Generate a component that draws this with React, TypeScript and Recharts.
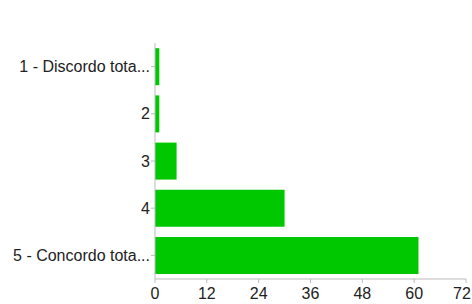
import { BarChart, Bar, XAxis, YAxis } from "recharts";

const categories = ["1 - Discordo tota...", "2", "3", "4", "5 - Concordo tota..."];
const counts = [1, 1, 5, 30, 61];
const xTicks = [0, 12, 24, 36, 48, 60, 72];

const data = categories.map((name, i) => ({ name, count: counts[i] }));

const axisColor = "#bbbbbb";
const font = "'Liberation Sans', Arial, sans-serif";
const labelStyle = { fontSize: 16, fill: "#222222", fontFamily: font };

// keeps the last label ("72") inside the 472px frame
function XTick(props: any) {
  const { x, y, payload } = props;
  const half = String(payload.value).length * 4.5;
  const cx = Math.min(x, 471 - half);
  return (
    <text x={cx} y={y} dy="0.71em" textAnchor="middle" fontSize={16} fill="#222222" fontFamily={font}>
      {payload.value}
    </text>
  );
}

export default function App() {
  return (
    <div style={{ position: "absolute", left: 0, top: 0, width: 472, height: 304, background: "#fff" }}>
      <BarChart
        width={472}
        height={304}
        data={data}
        layout="vertical"
        margin={{ top: 43, right: 6, left: 0, bottom: 0 }}
        barCategoryGap="11%"
      >
        <XAxis
          type="number"
          domain={[0, 72]}
          ticks={xTicks}
          interval={0}
          height={25}
          stroke={axisColor}
          tickSize={4}
          tickMargin={5}
          tick={<XTick />}
        />
        <YAxis
          type="category"
          dataKey="name"
          width={155}
          stroke={axisColor}
          tickSize={4}
          tickMargin={1}
          tick={labelStyle}
        />
        <Bar dataKey="count" fill="#00c800" isAnimationActive={false} />
      </BarChart>
    </div>
  );
}
